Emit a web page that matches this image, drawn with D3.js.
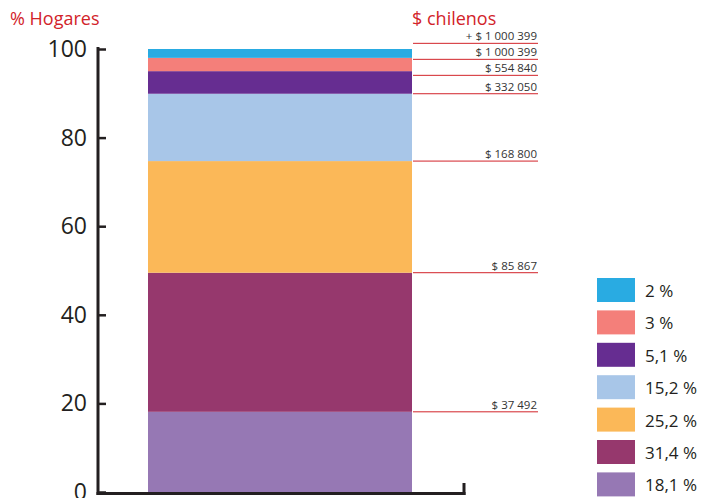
<!DOCTYPE html>
<html><head><meta charset="utf-8">
<script src="https://cdn.jsdelivr.net/npm/d3@7"></script>
<style>
html,body{margin:0;padding:0;background:#fff;}
text{font-family:"Open Sans","Noto Sans",sans-serif;}
</style></head>
<body><svg id="c" width="702" height="498"></svg>
<script>
// Data (bottom to top)
const shares = [18.1, 31.4, 25.2, 15.2, 5.1, 3, 2];
const shareLabels = ["18,1 %", "31,4 %", "25,2 %", "15,2 %", "5,1 %", "3 %", "2 %"];
const incomeLabels = ["$ 37 492", "$ 85 867", "$ 168 800", "$ 332 050", "$ 554 840", "$ 1 000 399", "+ $ 1 000 399"];
const colors = ["#9678b4", "#96386d", "#fbb858", "#a8c6e8", "#662d91", "#f47f7a", "#29abe2"];
const yTicks = [0, 20, 40, 60, 80, 100];

const svg = d3.select("#c");
const y = d3.scaleLinear().domain([0, 100]).range([492, 49]);

// stacked
let cum = 0;
const segs = shares.map((v, i) => { const s = {y0: cum, y1: cum + v, i}; cum += v; return s; });

svg.append("g").selectAll("rect").data(segs).join("rect")
  .attr("x", 148).attr("width", 264)
  .attr("y", d => y(d.y1)).attr("height", d => y(d.y0) - y(d.y1))
  .attr("fill", d => colors[d.i]);

// income label lines with relaxation
const pos = segs.map(d => y(d.y1));
for (let it = 0; it < 200; it++) {
  for (let k = 0; k < pos.length - 1; k++) {
    const a = pos[k], b = pos[k + 1];
    const gap = a - b;
    if (gap < 16) { const d = (16 - gap) / 2; pos[k] += d; pos[k + 1] -= d; }
  }
}
const lab = svg.append("g");
segs.forEach((d, i) => {
  lab.append("line").attr("x1", 413).attr("x2", 538).attr("y1", pos[i]).attr("y2", pos[i])
    .attr("stroke", "#d2232a").attr("stroke-width", 1);
  lab.append("text").attr("x", 537).attr("y", pos[i] - 3).attr("text-anchor", "end")
    .attr("font-size", 11.5).attr("fill", "#333").text(incomeLabels[i]);
});

// y axis
const yAxis = d3.axisRight(y).tickValues(yTicks).tickSize(8).tickFormat("");
const ga = svg.append("g").attr("transform", "translate(98,0)").call(yAxis);
ga.select(".domain").remove();
ga.selectAll("line").attr("stroke", "#231f20").attr("stroke-width", 2.5);
svg.append("line").attr("x1", 98).attr("x2", 98).attr("y1", 47).attr("y2", 495)
  .attr("stroke", "#231f20").attr("stroke-width", 3);
svg.append("g").selectAll("text").data(yTicks).join("text")
  .attr("x", 87).attr("y", d => y(d) + 8).attr("text-anchor", "end")
  .attr("font-size", 23).attr("fill", "#231f20").text(d => d);

// x axis
svg.append("line").attr("x1", 96.5).attr("x2", 465.5).attr("y1", 493.5).attr("y2", 493.5)
  .attr("stroke", "#231f20").attr("stroke-width", 3);
svg.append("line").attr("x1", 464).attr("x2", 464).attr("y1", 483).attr("y2", 495)
  .attr("stroke", "#231f20").attr("stroke-width", 3);

// titles
svg.append("text").attr("x", 10).attr("y", 25).attr("font-size", 18).attr("fill", "#d2232a").text("% Hogares");
svg.append("text").attr("x", 412).attr("y", 25).attr("font-size", 18).attr("fill", "#d2232a").text("$ chilenos");

// legend (top to bottom)
const leg = d3.range(shares.length).reverse();
const lg = svg.append("g");
leg.forEach((i, r) => {
  const yy = 278 + r * 32.4;
  lg.append("rect").attr("x", 597).attr("y", yy).attr("width", 38).attr("height", 24).attr("fill", colors[i]);
  lg.append("text").attr("x", 645).attr("y", yy + 19).attr("font-size", 17).attr("fill", "#231f20").text(shareLabels[i]);
});
</script></body></html>
